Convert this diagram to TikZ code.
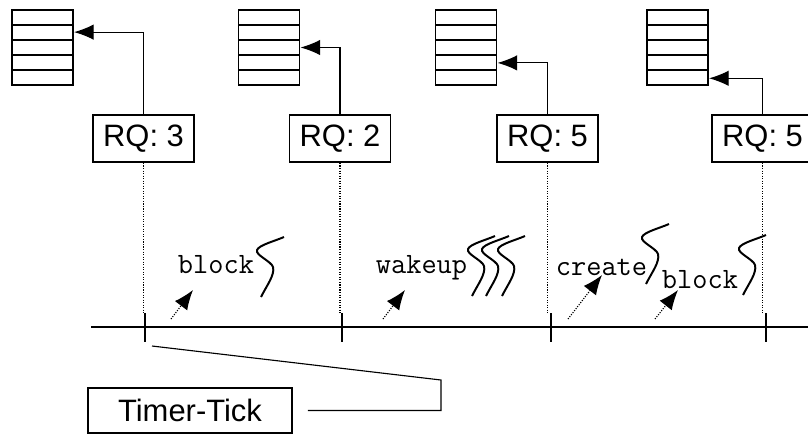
\documentclass[tikz,border=0pt]{standalone}
\usepackage{fontspec}
\setmainfont{Liberation Sans}
\usetikzlibrary{arrows.meta,calc}

\begin{document}
\begin{tikzpicture}[x=.025cm,y=-.025cm,
    every node/.style={font=\fontsize{22}{26}\selectfont},
    queue/.style={draw,line width=1.4pt,inner sep=0pt,minimum width=1.525cm,minimum height=1.875cm,
      path picture={\foreach \f in {.2,.4,.6,.8}
        \draw[line width=1.4pt] ($(path picture bounding box.north west)!\f!(path picture bounding box.south west)$)
          -- ($(path picture bounding box.north east)!\f!(path picture bounding box.south east)$);}},
    rqbox/.style={draw,line width=1.3pt,minimum width=2.525cm,minimum height=1.175cm,inner sep=0pt},
    op/.style={font=\ttfamily\fontsize{21}{24}\selectfont,anchor=base,inner sep=0pt},
    tip/.style={-{Latex[length=14pt,width=11pt]},line width=.8pt},
    squig/.pic={\draw[line width=1.4pt] (0,0) .. controls (6,-12) and (14,-22) .. (12,-30)
      .. controls (10,-36) and (-6,-42) .. (-4,-47) .. controls (-2,-52) and (14,-56) .. (23,-60);}]
      \fill[white] (0,0) rectangle (808,435);
      \useasboundingbox (0,0) rectangle (808,435);
      % run queues
      \node[queue] (q1) at (42.5,47.5) {};
      \node[queue] (q2) at (269,47.5) {};
      \node[queue] (q3) at (466,47.5) {};
      \node[queue] (q4) at (677.5,47.5) {};
      \node[rqbox] (rq1) at (143.5,138.5) {RQ: 3};
      \node[rqbox] (rq2) at (340,138.5) {RQ: 2};
      \node[rqbox] (rq3) at (547.5,138.5) {RQ: 5};
      \node[rqbox] (rq4) at (762.5,138.5) {RQ: 5};
      \draw[tip] (rq1.north) |- ($(q1.north east)!.3!(q1.south east)$);
      \draw[tip] (rq2.north) |- ($(q2.north east)!.5!(q2.south east)$);
      \draw[tip] (rq3.north) |- ($(q3.north east)!.7!(q3.south east)$);
      \draw[tip] (rq4.north) |- ($(q4.north east)!.9!(q4.south east)$);
      % time line
      \coordinate (t0) at (91,327);
      \coordinate (t1) at (808,327);
      \draw[line width=1.4pt] (t0) -- (t1);
      \coordinate (k1) at (145,313);
      \coordinate (k2) at (342,313);
      \coordinate (k3) at (551,313);
      \coordinate (k4) at (766,313);
      \draw[line width=1.4pt] (k1) -- ++(0,29) (k2) -- ++(0,29) (k3) -- ++(0,29) (k4) -- ++(0,29);
      \draw[densely dotted,line width=.8pt] (rq1.south) -- (rq1.south |- k1);
      \draw[densely dotted,line width=.8pt] (rq2.south) -- (rq2.south |- k2);
      \draw[densely dotted,line width=.8pt] (rq3.south) -- (rq3.south |- k3);
      \draw[densely dotted,line width=.8pt] (rq4.south) -- (rq4.south |- k4);
      % events
      \node[op] (b1) at (216,273) {block};
      \node[op] (w) at (421.5,273) {wakeup};
      \node[op] (c) at (601.5,275) {create};
      \node[op] (b2) at (700,288) {block};
      \pic at (261,297) {squig};
      \pic at (472,296) {squig};
      \pic at (486,296) {squig};
      \pic at (502,296) {squig};
      \pic at (646,284) {squig};
      \pic at (743,295) {squig};
      \draw[tip,densely dotted] (171,319) -- (193,290);
      \draw[tip,densely dotted] (383,319) -- (405,290);
      \draw[tip,densely dotted] (568,319) -- (602,275);
      \draw[tip,densely dotted] (655,319) -- (678,290);
      % timer tick
      \node[rqbox,minimum width=5.1cm,minimum height=1.125cm] (tt) at (190,410.5) {Timer-Tick};
      \coordinate (k) at (152,346);
      \draw[line width=.8pt] (k) -- (441,380) |- ([xshift=.375cm]tt.east);
    \end{tikzpicture}
\end{document}
